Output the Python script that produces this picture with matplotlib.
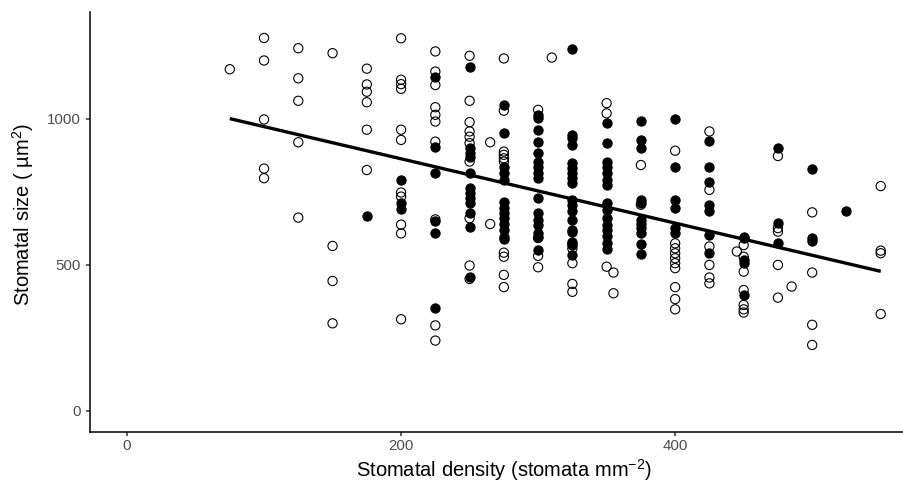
import matplotlib
matplotlib.use('Agg')
import matplotlib.pyplot as plt
import numpy as np

plt.rcParams['font.family'] = ['Liberation Sans', 'DejaVu Sans']
plt.rcParams['mathtext.fontset'] = 'custom'
plt.rcParams['mathtext.rm'] = 'Liberation Sans'
plt.rcParams['mathtext.default'] = 'regular'

# density (stomata mm^-2) -> stomatal size (um^2)
open_x = ([75] + [100] * 5 + [125] * 5 + [150] * 4 + [175] * 6 + [200] * 11
          + [225] * 10 + [250] * 10 + [265] * 2 + [275] * 10 + [300] * 4 + [310]
          + [325] * 5 + [350] * 3 + [355] * 2 + [375] * 2 + [400] * 10 + [425] * 6
          + [445] + [450] * 7 + [475] * 5 + [485] + [500] * 4 + [550] * 4)
open_y = ([1170]
          + [1277, 1200, 998, 830, 797]
          + [1242, 1139, 1062, 920, 662]
          + [1225, 565, 445, 300]
          + [1172, 1118, 1093, 1057, 963, 825]
          + [1276, 1134, 1119, 1103, 963, 928, 748, 734, 638, 608, 314]
          + [1231, 1162, 1116, 1040, 1014, 991, 922, 656, 293, 241]
          + [1216, 1062, 989, 957, 939, 917, 854, 660, 498, 452]
          + [920, 640]
          + [1207, 1028, 888, 877, 865, 854, 542, 528, 466, 424]
          + [1031, 592, 531, 492]
          + [1210]
          + [572, 556, 506, 435, 408]
          + [1054, 1019, 494]
          + [474, 403]
          + [842, 706]
          + [891, 574, 557, 540, 523, 506, 489, 424, 383, 348]
          + [957, 757, 563, 500, 457, 437]
          + [546]
          + [568, 528, 477, 414, 363, 348, 337]
          + [873, 626, 614, 500, 388]
          + [426]
          + [680, 474, 295, 226]
          + [770, 549, 540, 332])

filled_x = ([175] + [200] * 3 + [225] * 6 + [250] * 12 + [275] * 13 + [300] * 16
            + [325] * 18 + [350] * 15 + [375] * 11 + [400] * 6 + [425] * 7
            + [450] * 5 + [475] * 3 + [500] * 3 + [525])
filled_y = ([668]
            + [791, 713, 691]
            + [1143, 903, 814, 652, 609, 352]
            + [1176, 900, 882, 871, 814, 763, 746, 728, 711, 679, 631, 457]
            + [1046, 953, 837, 814, 791, 717, 694, 677, 660, 640, 620, 597, 588]
            + [1014, 1002, 962, 922, 882, 854, 837, 814, 797, 728, 677, 654, 637,
               610, 596, 551]
            + [1240, 945, 934, 911, 848, 831, 814, 797, 780, 723, 706, 683, 654,
               620, 614, 580, 568, 534]
            + [985, 917, 854, 837, 814, 791, 774, 711, 688, 660, 637, 620, 600,
               575, 555]
            + [994, 928, 900, 723, 713, 654, 640, 625, 611, 572, 538]
            + [999, 837, 723, 694, 626, 609]
            + [925, 837, 783, 706, 686, 603, 542]
            + [597, 591, 517, 506, 397]
            + [900, 643, 576]
            + [828, 591, 583]
            + [683])

# linear fit
fit_intercept = 1083.6
fit_slope = -1.101
fit_range = [75, 550]

fig = plt.figure(figsize=(9.04, 4.83), dpi=100)
ax = fig.add_axes([90 / 904, 51 / 483, 814 / 904, 420 / 483])

ax.scatter(filled_x, filled_y, s=44, facecolor='black', edgecolor='black',
           linewidth=0.8, zorder=3)
ax.scatter(open_x, open_y, s=44, facecolor='none', edgecolor='black',
           linewidth=0.8, zorder=3)

fx = np.array(fit_range)
ax.plot(fx, fit_intercept + fit_slope * fx, color='black', linewidth=2.4,
        solid_capstyle='butt', zorder=4)

ax.set_xlim(-27, 567)
ax.set_ylim(-72, 1366)
ax.set_xticks([0, 200, 400])
ax.set_yticks([0, 500, 1000])

for side in ['top', 'right']:
    ax.spines[side].set_visible(False)
for side in ['left', 'bottom']:
    ax.spines[side].set_linewidth(1.1)
    ax.spines[side].set_color('black')

ax.tick_params(axis='both', length=3.2, width=1.1, color='#333333',
               labelsize=10.8, labelcolor='#4D4D4D')
ax.tick_params(axis='x', pad=2)
ax.tick_params(axis='y', pad=3.6)

fig.text(504 / 904, 6 / 483, 'Stomatal density (stomata mm$^{-2}$)',
         ha='center', va='baseline', fontsize=14.5, color='black')
fig.text(23 / 904, 1 - 215 / 483, 'Stomatal size ( µm$^{2}$)',
         ha='center', va='center', rotation=90, fontsize=14.5, color='black')

fig.savefig('out.png', dpi=100)
